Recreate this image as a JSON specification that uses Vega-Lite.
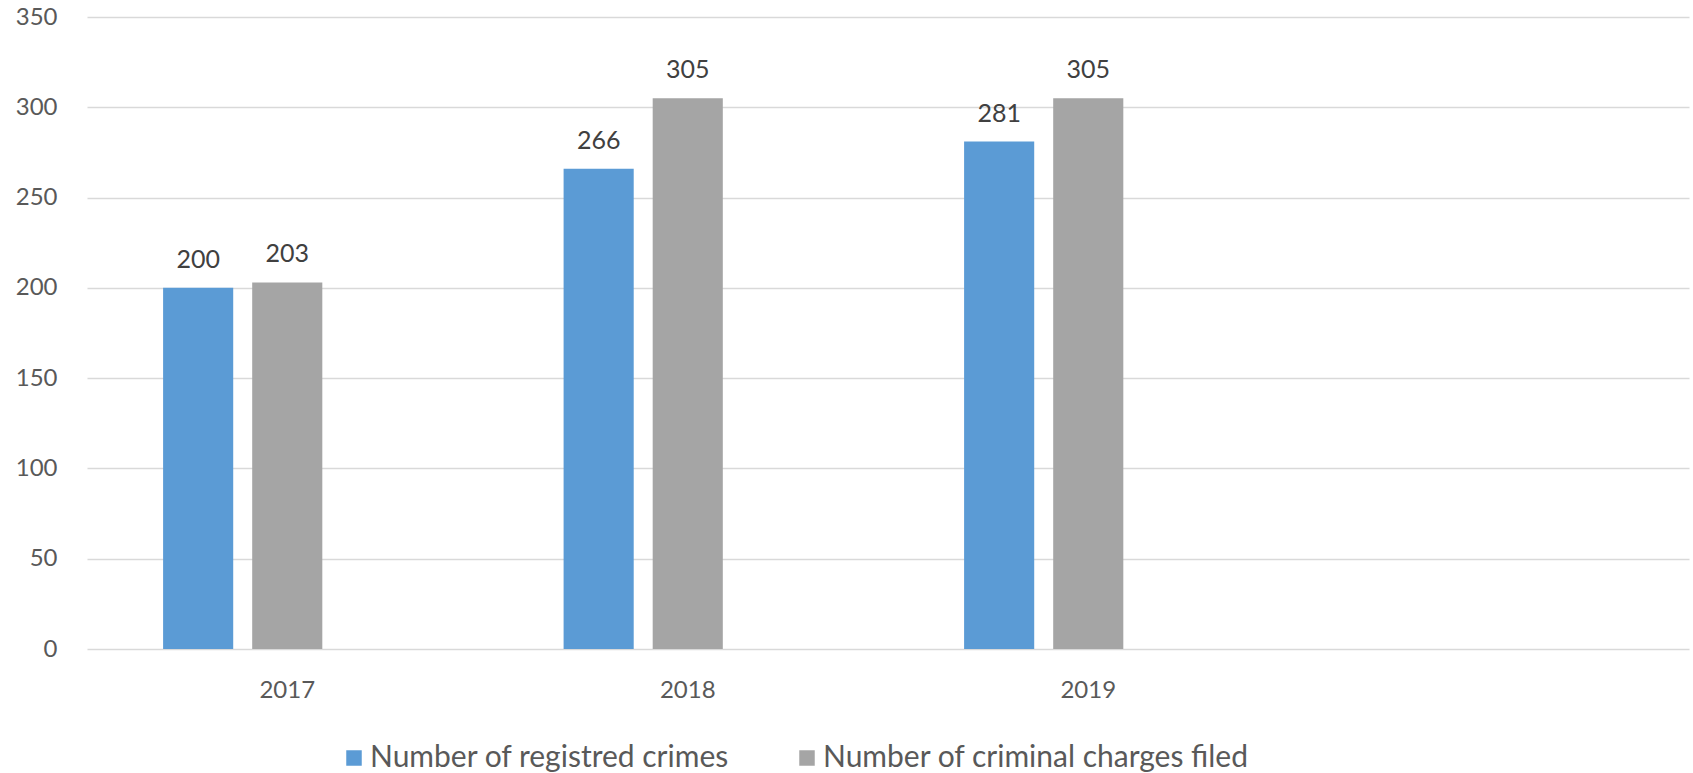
{
  "$schema": "https://vega.github.io/schema/vega-lite/v6.json",
  "width": 1602,
  "height": 632,
  "autosize": {"type": "none"},
  "padding": {"left": 87, "top": 17, "right": 4, "bottom": 124},
  "background": "white",
  "config": {
    "font": "Lato",
    "view": {"stroke": null}
  },
  "data": {
    "values": [
      {"year": "2017", "series": "Number of registred crimes", "value": 200},
      {"year": "2017", "series": "Number of criminal charges filed", "value": 203},
      {"year": "2018", "series": "Number of registred crimes", "value": 266},
      {"year": "2018", "series": "Number of criminal charges filed", "value": 305},
      {"year": "2019", "series": "Number of registred crimes", "value": 281},
      {"year": "2019", "series": "Number of criminal charges filed", "value": 305}
    ]
  },
  "encoding": {
    "x": {
      "field": "year",
      "type": "nominal",
      "scale": {"domain": ["2017", "2018", "2019", ""], "paddingInner": 0.38, "paddingOuter": 0.19},
      "axis": {
        "title": null,
        "labelAngle": 0,
        "ticks": false,
        "domain": false,
        "labelFontSize": 24,
        "labelColor": "#595959",
        "labelPadding": 29
      }
    },
    "xOffset": {
      "field": "series",
      "type": "nominal",
      "scale": {
        "domain": ["Number of registred crimes", "Number of criminal charges filed", ""],
        "paddingInner": 0.213,
        "paddingOuter": 0
      }
    },
    "y": {
      "field": "value",
      "type": "quantitative",
      "scale": {"domain": [0, 350], "nice": false},
      "axis": {
        "title": null,
        "values": [0, 50, 100, 150, 200, 250, 300, 350],
        "ticks": false,
        "domain": false,
        "gridColor": "#D9D9D9",
        "gridWidth": 1.5,
        "labelFontSize": 24,
        "labelColor": "#595959",
        "labelPadding": 30
      }
    }
  },
  "layer": [
    {
      "mark": {"type": "bar"},
      "encoding": {
        "color": {
          "field": "series",
          "type": "nominal",
          "scale": {
            "domain": ["Number of registred crimes", "Number of criminal charges filed"],
            "range": ["#5B9BD5", "#A5A5A5"]
          },
          "legend": {
            "title": null,
            "orient": "none",
            "direction": "horizontal",
            "legendX": 252,
            "legendY": 726,
            "padding": 0,
            "symbolType": "square",
            "symbolSize": 240,
            "symbolStrokeWidth": 0,
            "symbolOpacity": 1,
            "labelFontSize": 30,
            "labelColor": "#595959",
            "labelOffset": 1,
            "labelLimit": 700,
            "columnPadding": 62
          }
        }
      }
    },
    {
      "mark": {
        "type": "text",
        "baseline": "alphabetic",
        "dy": -20,
        "fontSize": 25,
        "color": "#404040"
      },
      "encoding": {
        "text": {"field": "value", "type": "quantitative"}
      }
    }
  ]
}
